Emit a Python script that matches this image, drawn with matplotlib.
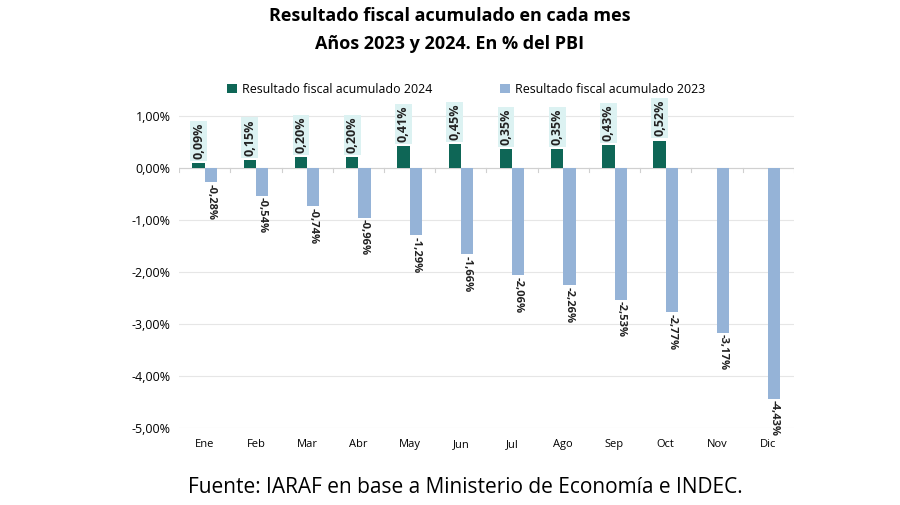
import matplotlib.pyplot as plt
import numpy as np

# ── Datos ─────────────────────────────────────────────────────────────────────
meses = ["Ene", "Feb", "Mar", "Abr", "May", "Jun", "Jul", "Ago", "Sep", "Oct", "Nov", "Dic"]
res_2024 = [0.09, 0.15, 0.20, 0.20, 0.41, 0.45, 0.35, 0.35, 0.43, 0.52]
res_2023 = [-0.28, -0.54, -0.74, -0.96, -1.29, -1.66, -2.06, -2.26, -2.53, -2.77, -3.17, -4.43]
yticks = [1, 0, -1, -2, -3, -4, -5]

VERDE = "#0e6656"
AZUL = "#95b3d7"
FONDO_ETQ = "#dcf2f2"

plt.rcParams["font.family"] = ["Open Sans", "DejaVu Sans"]


def fmt(v):
    return f"{v:.2f}%".replace(".", ",")


fig = plt.figure(figsize=(9, 5.05), dpi=100)
ax = fig.add_axes([0.199, 0.152, 0.683, 0.65])

x = np.arange(len(meses))
w = 0.24
b24 = ax.bar(x[:len(res_2024)] - w / 2, res_2024, w, color=VERDE,
             label="Resultado fiscal acumulado 2024", zorder=3)
b23 = ax.bar(x + w / 2, res_2023, w, color=AZUL,
             label="Resultado fiscal acumulado 2023", zorder=3)

for xi, v in zip(x, res_2024):
    ax.text(xi - w / 2, v + 0.08, fmt(v), rotation=90, ha="center", va="bottom",
            fontsize=9, fontweight="bold", color="#222222", zorder=4,
            bbox=dict(boxstyle="square,pad=0.15", fc=FONDO_ETQ, ec="none"))
for xi, v in zip(x, res_2023):
    ax.text(xi + w / 2, v - 0.03, fmt(v), rotation=-90, ha="center", va="top",
            fontsize=8, fontweight="bold", color="#222222", zorder=4)

ax.set_xlim(-0.5, len(meses) - 0.5)
ax.set_ylim(-5.0, 1.3)
ax.set_yticks(yticks)
ax.set_yticklabels([fmt(t) for t in yticks], fontsize=9)
ax.grid(axis="y", color="#e6e6e6", lw=0.8, zorder=0)
for s in ax.spines.values():
    s.set_visible(False)
ax.tick_params(axis="y", length=0, pad=6)
ax.tick_params(axis="x", length=0, pad=8, labelsize=8)
ax.set_xticks(x)
ax.set_xticklabels(meses)

# eje en 0 con marcas entre categorías
ax.axhline(0, color="#d0d0d0", lw=0.8, zorder=2)
for xb in np.arange(-0.5, len(meses), 1):
    ax.plot([xb, xb], [0, -0.08], color="#d0d0d0", lw=0.8, zorder=2)

fig.legend(handles=[b24, b23], loc="center", bbox_to_anchor=(0.518, 0.823), ncol=2,
           frameon=False, fontsize=8.9, handlelength=0.8, handleheight=0.8,
           handletextpad=0.4, columnspacing=5.5)

fig.text(0.5, 0.968, "Resultado fiscal acumulado en cada mes", ha="center", va="center",
         fontsize=13, fontweight="bold")
fig.text(0.5, 0.913, "Años 2023 y 2024. En % del PBI", ha="center", va="center",
         fontsize=13, fontweight="bold")
fig.text(0.517, 0.034, "Fuente: IARAF en base a Ministerio de Economía e INDEC.",
         ha="center", va="center", fontsize=15)

plt.savefig("out.png", dpi=100)
